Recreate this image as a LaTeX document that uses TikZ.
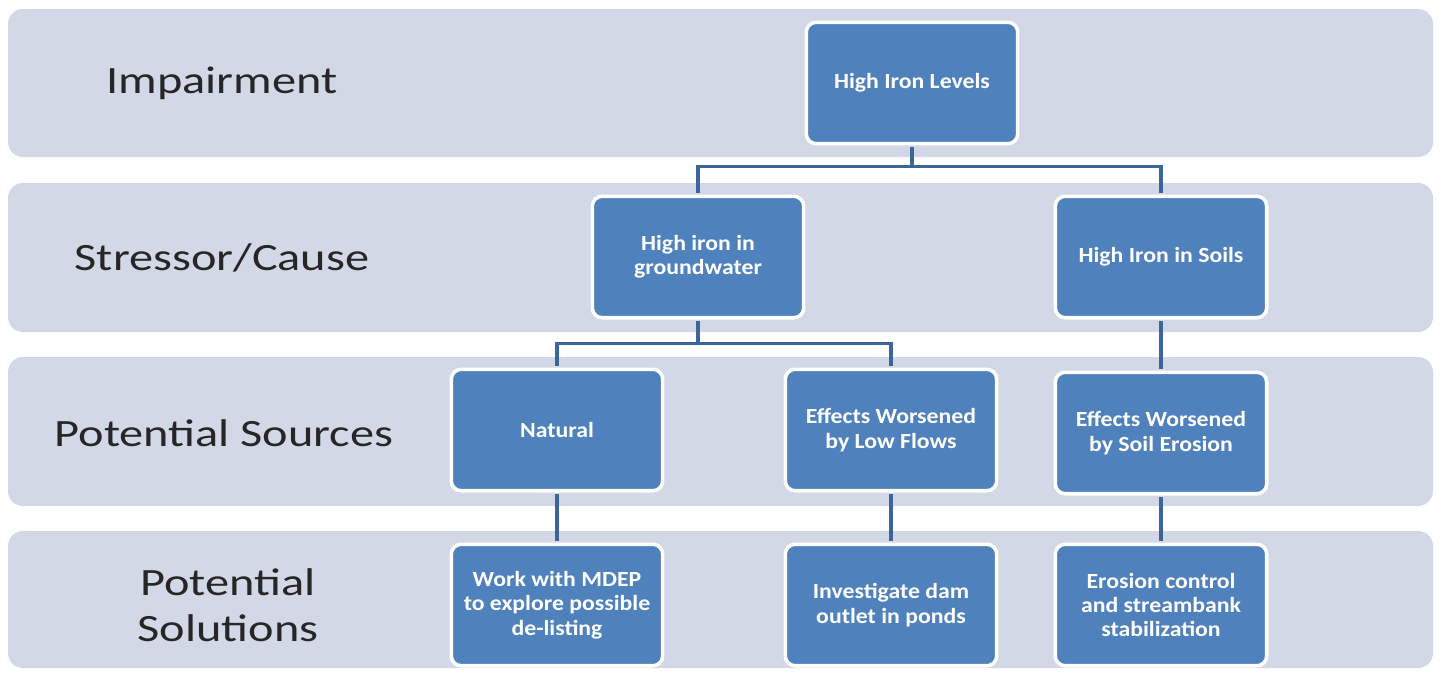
\documentclass[tikz,border=0pt]{standalone}
\usepackage{fontspec}
\setmainfont{Carlito}
\newfontfamily\rowfont[FakeStretch=1.25]{Carlito}
\newfontfamily\boxfont[FakeStretch=1.1]{Carlito}
\definecolor{bandgray}{HTML}{D3D8E6}
\definecolor{boxblue}{HTML}{4F81BD}
\definecolor{linkblue}{HTML}{3C659A}

\begin{document}
\begin{tikzpicture}[x=0.02cm,y=-0.02cm,
                    band/.style={fill=bandgray,rounded corners=0.3cm},
                    level/.style={text=black!85,align=center,
                                  font=\rowfont\fontsize{22}{26}\selectfont},
                    item/.style={rectangle,rounded corners=0.2cm,fill=boxblue,
                                 draw=white,line width=2pt,text=white,align=center,
                                 minimum width=4.23cm,minimum height=2.43cm,
                                 font=\boxfont\bfseries\fontsize{12.3}{13.8}\selectfont},
                    link/.style={draw=linkblue,line width=2.2pt,
                                 shorten >=1pt,shorten <=1pt}]

	  \useasboundingbox (0,0) rectangle (1440,673);

	  % rows
	  \fill[band] (8,9)   rectangle (1433,157);
	  \fill[band] (8,183) rectangle (1433,332);
	  \fill[band] (8,357) rectangle (1433,506);
	  \fill[band] (8,531) rectangle (1433,668);

	  \node[level] (L1) at (222,83)  {Impairment};
	  \node[level] (L2) at (222,258) {Stressor/Cause};
	  \node[level] (L3) at (224,433) {Potential Sources};
	  \node[level] (L4) at (228,605) {Potential\\Solutions};

	  % boxes
	  \node[item] (HIL)  at (912,83)   {High Iron Levels};
	  \node[item] (HIG)  at (698,257)  {High iron in\\groundwater};
	  \node[item] (HIS)  at (1161,257) {High Iron in Soils};
	  \node[item] (NAT)  at (557,430)  {Natural};
	  \node[item] (EWF)  at (891,430)  {Effects Worsened\\by Low Flows};
	  \node[item] (EWE)  at (1161,433) {Effects Worsened\\by Soil Erosion};
	  \node[item] (MDEP) at (557,605)  {Work with MDEP\\to explore possible\\de-listing};
	  \node[item] (DAM)  at (891,605)  {Investigate dam\\outlet in ponds};
	  \node[item] (ERC)  at (1161,605) {Erosion control\\and streambank\\stabilization};

	  % connectors
	  \draw[link] (HIL.south) -- ++(0,21) -| (HIG.north);
	  \draw[link] (HIL.south) -- ++(0,21) -| (HIS.north);
	  \draw[link] (HIG.south) -- ++(0,24) -| (NAT.north);
	  \draw[link] (HIG.south) -- ++(0,24) -| (EWF.north);

	  \path[link] (HIS) edge (EWE)
	        (NAT) edge (MDEP)
	        (EWF) edge (DAM)
	        (EWE) edge (ERC);
\end{tikzpicture}
\end{document}
